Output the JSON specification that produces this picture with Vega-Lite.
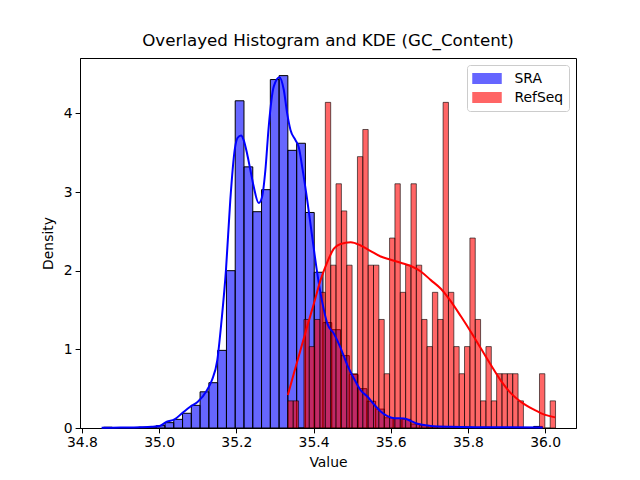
{
  "$schema": "https://vega.github.io/schema/vega-lite/v6.json",
  "width": 496,
  "height": 370,
  "autosize": {"type": "none"},
  "padding": {"left": 80, "top": 58, "right": 64, "bottom": 52},
  "title": {"text": "Overlayed Histogram and KDE (GC_Content)", "fontSize": 16.7, "fontWeight": "normal", "anchor": "middle", "offset": 8, "color": "black", "font": "DejaVu Sans"},
  "config": {
    "font": "DejaVu Sans",
    "view": {"stroke": "black", "strokeWidth": 1},
    "axis": {"domainColor": "black", "tickColor": "black", "labelColor": "black", "titleColor": "black", "grid": false, "labelFontSize": 13.9, "titleFontSize": 13.9, "titleFontWeight": "normal", "tickSize": 4.9, "labelPadding": 3, "domainWidth": 1, "tickWidth": 1, "labelFont": "DejaVu Sans", "titleFont": "DejaVu Sans"}
  },
  "datasets": {
    "hist": [
      {"s": "SRA", "x0": 34.856, "x1": 34.8787, "d": 0.01},
      {"s": "SRA", "x0": 34.8787, "x1": 34.9015, "d": 0},
      {"s": "SRA", "x0": 34.9015, "x1": 34.9242, "d": 0},
      {"s": "SRA", "x0": 34.9242, "x1": 34.947, "d": 0},
      {"s": "SRA", "x0": 34.947, "x1": 34.9697, "d": 0.01},
      {"s": "SRA", "x0": 34.9697, "x1": 34.9924, "d": 0.01},
      {"s": "SRA", "x0": 34.9924, "x1": 35.0152, "d": 0.03},
      {"s": "SRA", "x0": 35.0152, "x1": 35.0379, "d": 0.068},
      {"s": "SRA", "x0": 35.0379, "x1": 35.0607, "d": 0.11},
      {"s": "SRA", "x0": 35.0607, "x1": 35.0834, "d": 0.187},
      {"s": "SRA", "x0": 35.0834, "x1": 35.1061, "d": 0.288},
      {"s": "SRA", "x0": 35.1061, "x1": 35.1289, "d": 0.46},
      {"s": "SRA", "x0": 35.1289, "x1": 35.1516, "d": 0.576},
      {"s": "SRA", "x0": 35.1516, "x1": 35.1744, "d": 0.987},
      {"s": "SRA", "x0": 35.1744, "x1": 35.1971, "d": 2.0},
      {"s": "SRA", "x0": 35.1971, "x1": 35.2198, "d": 4.16},
      {"s": "SRA", "x0": 35.2198, "x1": 35.2426, "d": 3.32},
      {"s": "SRA", "x0": 35.2426, "x1": 35.2653, "d": 2.75},
      {"s": "SRA", "x0": 35.2653, "x1": 35.2881, "d": 3.03},
      {"s": "SRA", "x0": 35.2881, "x1": 35.3108, "d": 4.43},
      {"s": "SRA", "x0": 35.3108, "x1": 35.3335, "d": 4.48},
      {"s": "SRA", "x0": 35.3335, "x1": 35.3563, "d": 3.53},
      {"s": "SRA", "x0": 35.3563, "x1": 35.379, "d": 3.62},
      {"s": "SRA", "x0": 35.379, "x1": 35.4018, "d": 2.74},
      {"s": "SRA", "x0": 35.4018, "x1": 35.4245, "d": 1.98},
      {"s": "SRA", "x0": 35.4245, "x1": 35.4472, "d": 1.34},
      {"s": "SRA", "x0": 35.4472, "x1": 35.47, "d": 1.25},
      {"s": "SRA", "x0": 35.47, "x1": 35.4927, "d": 0.92},
      {"s": "SRA", "x0": 35.4927, "x1": 35.5155, "d": 0.68},
      {"s": "SRA", "x0": 35.5155, "x1": 35.5382, "d": 0.5},
      {"s": "SRA", "x0": 35.5382, "x1": 35.5609, "d": 0.34},
      {"s": "SRA", "x0": 35.5609, "x1": 35.5837, "d": 0.24},
      {"s": "SRA", "x0": 35.5837, "x1": 35.6064, "d": 0.13},
      {"s": "SRA", "x0": 35.6064, "x1": 35.6292, "d": 0.12},
      {"s": "SRA", "x0": 35.6292, "x1": 35.6519, "d": 0.11},
      {"s": "SRA", "x0": 35.6519, "x1": 35.6746, "d": 0.05},
      {"s": "SRA", "x0": 35.6746, "x1": 35.6974, "d": 0.03},
      {"s": "SRA", "x0": 35.6974, "x1": 35.7201, "d": 0.01},
      {"s": "SRA", "x0": 35.7201, "x1": 35.7429, "d": 0.02},
      {"s": "SRA", "x0": 35.7429, "x1": 35.7656, "d": 0},
      {"s": "SRA", "x0": 35.7656, "x1": 35.7883, "d": 0.01},
      {"s": "SRA", "x0": 35.7883, "x1": 35.8111, "d": 0.01},
      {"s": "SRA", "x0": 35.8111, "x1": 35.8338, "d": 0},
      {"s": "SRA", "x0": 35.8338, "x1": 35.8566, "d": 0.01},
      {"s": "SRA", "x0": 35.8566, "x1": 35.8793, "d": 0},
      {"s": "SRA", "x0": 35.8793, "x1": 35.902, "d": 0},
      {"s": "SRA", "x0": 35.902, "x1": 35.9248, "d": 0},
      {"s": "SRA", "x0": 35.9248, "x1": 35.9475, "d": 0},
      {"s": "SRA", "x0": 35.9475, "x1": 35.9703, "d": 0},
      {"s": "SRA", "x0": 35.9703, "x1": 35.993, "d": 0.02},
      {"s": "RefSeq", "x0": 35.3335, "x1": 35.3474, "d": 0.345},
      {"s": "RefSeq", "x0": 35.3474, "x1": 35.3612, "d": 0.345},
      {"s": "RefSeq", "x0": 35.3612, "x1": 35.3751, "d": 0},
      {"s": "RefSeq", "x0": 35.3751, "x1": 35.389, "d": 1.38},
      {"s": "RefSeq", "x0": 35.389, "x1": 35.4029, "d": 1.035},
      {"s": "RefSeq", "x0": 35.4029, "x1": 35.4167, "d": 1.38},
      {"s": "RefSeq", "x0": 35.4167, "x1": 35.4306, "d": 1.725},
      {"s": "RefSeq", "x0": 35.4306, "x1": 35.4445, "d": 4.14},
      {"s": "RefSeq", "x0": 35.4445, "x1": 35.4583, "d": 2.07},
      {"s": "RefSeq", "x0": 35.4583, "x1": 35.4722, "d": 3.105},
      {"s": "RefSeq", "x0": 35.4722, "x1": 35.4861, "d": 2.76},
      {"s": "RefSeq", "x0": 35.4861, "x1": 35.4999, "d": 2.07},
      {"s": "RefSeq", "x0": 35.4999, "x1": 35.5138, "d": 0.69},
      {"s": "RefSeq", "x0": 35.5138, "x1": 35.5277, "d": 3.45},
      {"s": "RefSeq", "x0": 35.5277, "x1": 35.5416, "d": 3.795},
      {"s": "RefSeq", "x0": 35.5416, "x1": 35.5554, "d": 2.07},
      {"s": "RefSeq", "x0": 35.5554, "x1": 35.5693, "d": 2.07},
      {"s": "RefSeq", "x0": 35.5693, "x1": 35.5832, "d": 1.38},
      {"s": "RefSeq", "x0": 35.5832, "x1": 35.597, "d": 0.69},
      {"s": "RefSeq", "x0": 35.597, "x1": 35.6109, "d": 2.415},
      {"s": "RefSeq", "x0": 35.6109, "x1": 35.6248, "d": 3.105},
      {"s": "RefSeq", "x0": 35.6248, "x1": 35.6386, "d": 1.725},
      {"s": "RefSeq", "x0": 35.6386, "x1": 35.6525, "d": 2.07},
      {"s": "RefSeq", "x0": 35.6525, "x1": 35.6664, "d": 3.105},
      {"s": "RefSeq", "x0": 35.6664, "x1": 35.6803, "d": 2.07},
      {"s": "RefSeq", "x0": 35.6803, "x1": 35.6941, "d": 1.38},
      {"s": "RefSeq", "x0": 35.6941, "x1": 35.708, "d": 1.035},
      {"s": "RefSeq", "x0": 35.708, "x1": 35.7219, "d": 1.725},
      {"s": "RefSeq", "x0": 35.7219, "x1": 35.7357, "d": 1.38},
      {"s": "RefSeq", "x0": 35.7357, "x1": 35.7496, "d": 4.14},
      {"s": "RefSeq", "x0": 35.7496, "x1": 35.7635, "d": 1.725},
      {"s": "RefSeq", "x0": 35.7635, "x1": 35.7773, "d": 1.035},
      {"s": "RefSeq", "x0": 35.7773, "x1": 35.7912, "d": 0.69},
      {"s": "RefSeq", "x0": 35.7912, "x1": 35.8051, "d": 1.035},
      {"s": "RefSeq", "x0": 35.8051, "x1": 35.819, "d": 2.415},
      {"s": "RefSeq", "x0": 35.819, "x1": 35.8328, "d": 1.38},
      {"s": "RefSeq", "x0": 35.8328, "x1": 35.8467, "d": 0.345},
      {"s": "RefSeq", "x0": 35.8467, "x1": 35.8606, "d": 1.035},
      {"s": "RefSeq", "x0": 35.8606, "x1": 35.8744, "d": 0.345},
      {"s": "RefSeq", "x0": 35.8744, "x1": 35.8883, "d": 0.69},
      {"s": "RefSeq", "x0": 35.8883, "x1": 35.9022, "d": 0.69},
      {"s": "RefSeq", "x0": 35.9022, "x1": 35.916, "d": 0.69},
      {"s": "RefSeq", "x0": 35.916, "x1": 35.9299, "d": 0.69},
      {"s": "RefSeq", "x0": 35.9299, "x1": 35.9438, "d": 0.345},
      {"s": "RefSeq", "x0": 35.9438, "x1": 35.9577, "d": 0},
      {"s": "RefSeq", "x0": 35.9577, "x1": 35.9715, "d": 0},
      {"s": "RefSeq", "x0": 35.9715, "x1": 35.9854, "d": 0},
      {"s": "RefSeq", "x0": 35.9854, "x1": 35.9993, "d": 0.69},
      {"s": "RefSeq", "x0": 35.9993, "x1": 36.0131, "d": 0},
      {"s": "RefSeq", "x0": 36.0131, "x1": 36.027, "d": 0.345}
    ],
    "kde": [
      {"s": "SRA", "v": 34.851, "d": 0.003},
      {"s": "SRA", "v": 34.9, "d": 0.006},
      {"s": "SRA", "v": 34.95, "d": 0.01},
      {"s": "SRA", "v": 34.98, "d": 0.015},
      {"s": "SRA", "v": 35.001, "d": 0.025},
      {"s": "SRA", "v": 35.02, "d": 0.08},
      {"s": "SRA", "v": 35.04, "d": 0.11},
      {"s": "SRA", "v": 35.06, "d": 0.19},
      {"s": "SRA", "v": 35.0805, "d": 0.27},
      {"s": "SRA", "v": 35.0996, "d": 0.33},
      {"s": "SRA", "v": 35.124, "d": 0.48},
      {"s": "SRA", "v": 35.1369, "d": 0.61},
      {"s": "SRA", "v": 35.1506, "d": 0.86},
      {"s": "SRA", "v": 35.1618, "d": 1.37},
      {"s": "SRA", "v": 35.1732, "d": 2.01},
      {"s": "SRA", "v": 35.1844, "d": 2.9},
      {"s": "SRA", "v": 35.1956, "d": 3.53},
      {"s": "SRA", "v": 35.2034, "d": 3.69},
      {"s": "SRA", "v": 35.2122, "d": 3.72},
      {"s": "SRA", "v": 35.219, "d": 3.66},
      {"s": "SRA", "v": 35.2278, "d": 3.49},
      {"s": "SRA", "v": 35.2364, "d": 3.28},
      {"s": "SRA", "v": 35.245, "d": 3.07},
      {"s": "SRA", "v": 35.258, "d": 2.86},
      {"s": "SRA", "v": 35.2668, "d": 2.94},
      {"s": "SRA", "v": 35.2753, "d": 3.28},
      {"s": "SRA", "v": 35.2839, "d": 3.83},
      {"s": "SRA", "v": 35.2969, "d": 4.34},
      {"s": "SRA", "v": 35.3117, "d": 4.46},
      {"s": "SRA", "v": 35.3229, "d": 4.3},
      {"s": "SRA", "v": 35.3317, "d": 4.0},
      {"s": "SRA", "v": 35.3403, "d": 3.79},
      {"s": "SRA", "v": 35.3532, "d": 3.66},
      {"s": "SRA", "v": 35.3618, "d": 3.57},
      {"s": "SRA", "v": 35.3706, "d": 3.32},
      {"s": "SRA", "v": 35.3836, "d": 2.9},
      {"s": "SRA", "v": 35.3966, "d": 2.43},
      {"s": "SRA", "v": 35.4096, "d": 1.97},
      {"s": "SRA", "v": 35.4226, "d": 1.6},
      {"s": "SRA", "v": 35.4356, "d": 1.33},
      {"s": "SRA", "v": 35.4527, "d": 1.2},
      {"s": "SRA", "v": 35.4701, "d": 1.02},
      {"s": "SRA", "v": 35.4875, "d": 0.8},
      {"s": "SRA", "v": 35.5047, "d": 0.63},
      {"s": "SRA", "v": 35.5221, "d": 0.48},
      {"s": "SRA", "v": 35.5395, "d": 0.4},
      {"s": "SRA", "v": 35.5566, "d": 0.3},
      {"s": "SRA", "v": 35.574, "d": 0.21},
      {"s": "SRA", "v": 35.5914, "d": 0.15},
      {"s": "SRA", "v": 35.6086, "d": 0.125},
      {"s": "SRA", "v": 35.6345, "d": 0.12},
      {"s": "SRA", "v": 35.6519, "d": 0.09},
      {"s": "SRA", "v": 35.6649, "d": 0.06},
      {"s": "SRA", "v": 35.6779, "d": 0.045},
      {"s": "SRA", "v": 35.6909, "d": 0.035},
      {"s": "SRA", "v": 35.7039, "d": 0.025},
      {"s": "SRA", "v": 35.7558, "d": 0.015},
      {"s": "SRA", "v": 35.8338, "d": 0.01},
      {"s": "SRA", "v": 35.9117, "d": 0.008},
      {"s": "SRA", "v": 35.9935, "d": 0.005},
      {"s": "RefSeq", "v": 35.3335, "d": 0.42},
      {"s": "RefSeq", "v": 35.3488, "d": 0.69},
      {"s": "RefSeq", "v": 35.3662, "d": 0.99},
      {"s": "RefSeq", "v": 35.3836, "d": 1.29},
      {"s": "RefSeq", "v": 35.4008, "d": 1.58},
      {"s": "RefSeq", "v": 35.4182, "d": 1.88},
      {"s": "RefSeq", "v": 35.4356, "d": 2.11},
      {"s": "RefSeq", "v": 35.4527, "d": 2.28},
      {"s": "RefSeq", "v": 35.4701, "d": 2.34},
      {"s": "RefSeq", "v": 35.4961, "d": 2.36},
      {"s": "RefSeq", "v": 35.5221, "d": 2.32},
      {"s": "RefSeq", "v": 35.548, "d": 2.25},
      {"s": "RefSeq", "v": 35.574, "d": 2.18},
      {"s": "RefSeq", "v": 35.6, "d": 2.14},
      {"s": "RefSeq", "v": 35.626, "d": 2.1},
      {"s": "RefSeq", "v": 35.6519, "d": 2.06},
      {"s": "RefSeq", "v": 35.6779, "d": 1.99},
      {"s": "RefSeq", "v": 35.7039, "d": 1.88},
      {"s": "RefSeq", "v": 35.7299, "d": 1.77},
      {"s": "RefSeq", "v": 35.7558, "d": 1.61},
      {"s": "RefSeq", "v": 35.7818, "d": 1.42},
      {"s": "RefSeq", "v": 35.8078, "d": 1.22},
      {"s": "RefSeq", "v": 35.8338, "d": 1.01},
      {"s": "RefSeq", "v": 35.8597, "d": 0.8},
      {"s": "RefSeq", "v": 35.8857, "d": 0.6},
      {"s": "RefSeq", "v": 35.9117, "d": 0.44},
      {"s": "RefSeq", "v": 35.9377, "d": 0.33},
      {"s": "RefSeq", "v": 35.9722, "d": 0.23},
      {"s": "RefSeq", "v": 35.9982, "d": 0.17},
      {"s": "RefSeq", "v": 36.026, "d": 0.135}
    ]
  },
  "layer": [
    {
      "data": {"name": "hist"},
      "transform": [{"filter": "datum.s === 'SRA'"}],
      "mark": {"type": "rect", "fillOpacity": 0.6, "stroke": "black", "strokeWidth": 1},
      "encoding": {
        "x": {"field": "x0", "type": "quantitative", "scale": {"domain": [34.795, 36.08], "nice": false, "zero": false},
              "axis": {"title": "Value", "values": [34.8, 35.0, 35.2, 35.4, 35.6, 35.8, 36.0], "format": ".1f", "labelFlush": false, "titlePadding": 6}},
        "x2": {"field": "x1"},
        "y": {"field": "d", "type": "quantitative", "scale": {"domain": [0, 4.704], "nice": false},
              "axis": {"title": "Density", "values": [0, 1, 2, 3, 4], "format": "d", "titlePadding": 8}},
        "y2": {"datum": 0},
        "fill": {"field": "s", "type": "nominal", "scale": {"domain": ["SRA", "RefSeq"], "range": ["blue", "red"]},
                 "legend": {"title": null, "orient": "top-right", "offset": 7, "padding": 5.5, "fillColor": "rgba(255,255,255,0.8)", "strokeColor": "#cccccc", "cornerRadius": 3,
                            "labelFontSize": 13.9, "labelFont": "DejaVu Sans", "labelColor": "black", "labelOffset": 19.5, "rowPadding": 3,
                            "symbolType": "M-2,-0.68H2V0.68H-2Z", "symbolSize": 196, "symbolOffset": 6.5, "symbolOpacity": 0.6,
                            "encode": {"symbols": {"update": {"stroke": {"value": "black"}, "strokeWidth": {"value": 1}}}}}}
      }
    },
    {
      "data": {"name": "hist"},
      "transform": [{"filter": "datum.s === 'RefSeq'"}],
      "mark": {"type": "rect", "fillOpacity": 0.6, "stroke": "black", "strokeOpacity": 0.6, "strokeWidth": 1},
      "encoding": {
        "x": {"field": "x0", "type": "quantitative"},
        "x2": {"field": "x1"},
        "y": {"field": "d", "type": "quantitative"},
        "y2": {"datum": 0},
        "fill": {"field": "s", "type": "nominal"}
      }
    },
    {
      "data": {"name": "kde"},
      "mark": {"type": "line", "strokeWidth": 2, "interpolate": "monotone"},
      "encoding": {
        "x": {"field": "v", "type": "quantitative"},
        "y": {"field": "d", "type": "quantitative"},
        "stroke": {"field": "s", "type": "nominal", "scale": {"domain": ["SRA", "RefSeq"], "range": ["blue", "red"]}, "legend": null},
        "order": {"field": "v"}
      }
    }
  ]
}
